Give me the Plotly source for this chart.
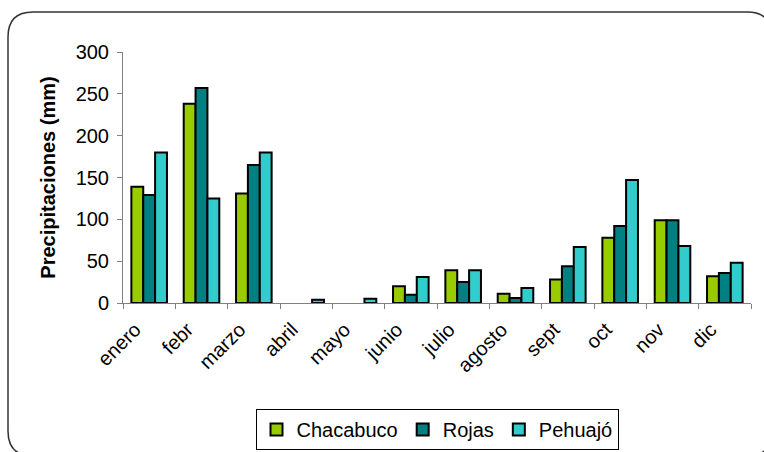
import plotly.graph_objects as go

# Monthly rainfall (mm) for three stations
meses = ["enero", "febr", "marzo", "abril", "mayo", "junio",
         "julio", "agosto", "sept", "oct", "nov", "dic"]
chacabuco = [139, 238, 131, 0, 0, 20, 39, 11, 28, 78, 99, 32]
rojas = [129, 257, 165, 0, 0, 10, 25, 6, 44, 92, 99, 36]
pehuajo = [180, 125, 180, 4, 5, 31, 39, 18, 67, 147, 68, 48]

series = [
    ("Chacabuco", chacabuco, "#99CC00"),
    ("Rojas", rojas, "#008080"),
    ("Pehuajó", pehuajo, "#33CCCC"),
]

FONT = "Arial, 'Liberation Sans', sans-serif"
FS = 20

fig = go.Figure()
for nombre, valores, color in series:
    # months without rain get no bar (avoids a flat outline on the axis)
    fig.add_trace(go.Bar(
        x=meses, y=[v if v > 0 else None for v in valores], name=nombre,
        marker=dict(color=color, line=dict(color="#000000", width=2)),
    ))

# plot-area geometry in pixels (used for the rounded frame)
W, H = 764, 452
ML, MR, MT, MB = 123, 13, 52, 149
pw, ph = W - ML - MR, H - MT - MB


def px(x):
    return (x - ML) / pw


def py(y):
    return (H - MB - y) / ph


# rounded chart frame
x0, x1, y0, y1, r = 8, 772, 12, 456, 25
frame = (
    f"M {px(x0)},{py(y0 + r)} "
    f"Q {px(x0)},{py(y0)} {px(x0 + r)},{py(y0)} "
    f"L {px(x1 - r)},{py(y0)} "
    f"Q {px(x1)},{py(y0)} {px(x1)},{py(y0 + r)} "
    f"L {px(x1)},{py(y1 - r)} "
    f"Q {px(x1)},{py(y1)} {px(x1 - r)},{py(y1)} "
    f"L {px(x0 + r)},{py(y1)} "
    f"Q {px(x0)},{py(y1)} {px(x0)},{py(y1 - r)} Z"
)
fig.add_shape(type="path", path=frame, xref="paper", yref="paper",
              line=dict(color="#333333", width=1.5), layer="below")

fig.update_layout(
    width=W, height=H,
    margin=dict(l=ML, r=MR, t=MT, b=MB, pad=0, autoexpand=False),
    paper_bgcolor="white", plot_bgcolor="white",
    font=dict(family=FONT, size=FS, color="#000000"),
    barmode="group", bargap=0.32, bargroupgap=0,
    showlegend=True,
    legend=dict(
        orientation="h", xref="container", yref="container",
        x=437 / W, xanchor="center",
        y=1 - 409 / H, yanchor="top",
        bordercolor="#000000", borderwidth=1,
        font=dict(family=FONT, size=FS),
        itemwidth=30, tracegroupgap=0,
    ),
    xaxis=dict(
        automargin=False,
        showline=True, linecolor="#808080", linewidth=1,
        ticks="outside", ticklen=5, tickcolor="#808080",
        tickson="boundaries", tickangle=-45,
        ticklabelshift=-14, ticklabelstandoff=6,
        showgrid=False, zeroline=False,
        tickfont=dict(family=FONT, size=FS),
    ),
    yaxis=dict(
        automargin=False,
        range=[0, 300], dtick=50,
        showline=True, linecolor="#808080", linewidth=1,
        ticks="outside", ticklen=5, tickcolor="#808080",
        ticklabelstandoff=4,
        showgrid=False, zeroline=False,
        tickfont=dict(family=FONT, size=FS),
        title=dict(text="<b>Precipitaciones (mm)</b>",
                   font=dict(family=FONT, size=FS), standoff=14),
    ),
)

fig.write_html("out.html")
